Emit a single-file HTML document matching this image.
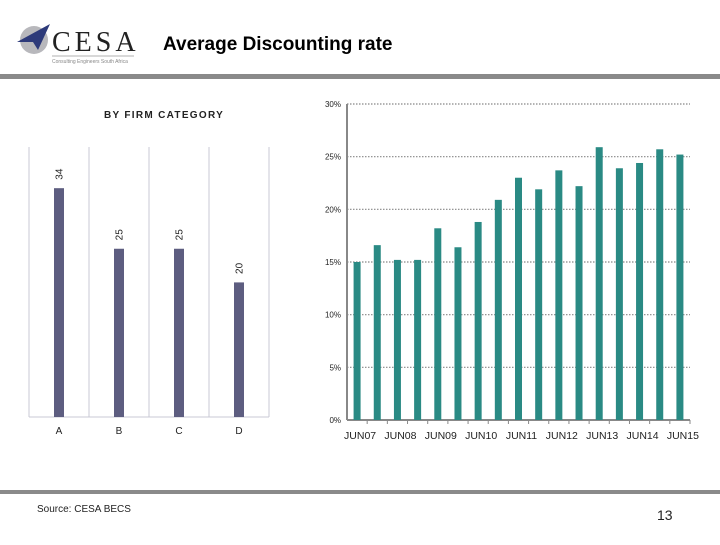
<!DOCTYPE html>
<html><head><meta charset="utf-8"><style>
body{margin:0;width:720px;height:540px;background:#fff;overflow:hidden;font-family:"Liberation Sans",sans-serif;}
</style></head><body>
<svg width="720" height="540" viewBox="0 0 720 540" xmlns="http://www.w3.org/2000/svg">
<g>
<circle cx="34" cy="40" r="14" fill="#b8b8bc"/>
<polygon points="17,42 50,24 38,50 33,42" fill="#2d3a7a"/>
<text x="52" y="51" font-family="Liberation Serif,serif" font-size="28" fill="#222" letter-spacing="4">CESA</text>
<line x1="52" y1="56" x2="134" y2="56" stroke="#999" stroke-width="0.7"/>
<text x="52" y="63" font-size="5" fill="#888">Consulting Engineers South Africa</text>
</g>
<text x="163" y="50" font-size="19" font-weight="bold" fill="#000">Average Discounting rate</text>
<rect x="0" y="74" width="720" height="5" fill="#8a8a8a"/>
<text x="104" y="118" font-size="10" font-weight="bold" letter-spacing="1.3" fill="#222">BY FIRM CATEGORY</text>
<g id="left"></g>
<g id="right"></g>
<rect x="0" y="490" width="720" height="4" fill="#8a8a8a"/>
<text x="37" y="512" font-size="10" fill="#222">Source: CESA BECS</text>
<text x="657" y="520" font-size="14" fill="#222">13</text>
</svg>
<script>
const catLabels=["A","B","C","D"];
const catValues=[34,25,25,20];
const periods=["JUN07","","JUN08","","JUN09","","JUN10","","JUN11","","JUN12","","JUN13","","JUN14","","JUN15"];
const rates=[15.0,16.6,15.2,15.2,18.2,16.4,18.8,20.9,23.0,21.9,23.7,22.2,25.9,23.9,24.4,25.7,25.2];
const yTicks=[0,5,10,15,20,25,30];
const NS="http://www.w3.org/2000/svg";
function mk(p,t,a){const e=document.createElementNS(NS,t);for(const k in a)e.setAttribute(k,a[k]);p.appendChild(e);return e;}
// left chart
const L=document.getElementById('left');
const lBase=417,lLeft=29,lStep=60,lScale=6.73;
const ly=v=>lBase-v*lScale;
const lx=i=>lLeft+lStep*i+lStep/2;
for(let i=0;i<=catLabels.length;i++){const g=mk(L,'line',{x1:lLeft+lStep*i,x2:lLeft+lStep*i,y1:147,y2:lBase,stroke:'#c8c8d4','stroke-width':1});
}
const lb=mk(L,'line',{x1:lLeft,x2:lLeft+lStep*4,y1:lBase,y2:lBase,stroke:'#c8c8d4','stroke-width':1});

catValues.forEach((v,i)=>{
const r=mk(L,'rect',{x:lx(i)-5,y:ly(v),width:10,height:lBase-ly(v),fill:'#5d5d80'});

const cx=lx(i)+1,cy=ly(v)-14;
const t=mk(L,'text',{x:cx,y:cy,'font-size':10,fill:'#222','text-anchor':'middle','dominant-baseline':'middle',transform:`rotate(-90 ${cx} ${cy})`});
t.textContent=v;
const c=mk(L,'text',{x:lx(i),y:434,'font-size':10,fill:'#222','text-anchor':'middle'});
c.textContent=catLabels[i];
});
// right chart
const R=document.getElementById('right');
const rBase=420,rTop=104,rMax=30,rX0=347,rX1=690;
const ry=v=>rBase-(v/rMax)*(rBase-rTop);
const rStep=(rX1-rX0)/rates.length;
const rx=i=>rX0+rStep*(i+0.5);
yTicks.forEach(t=>{
if(t>0){const g=mk(R,'line',{x1:rX0,x2:rX1,y1:ry(t),y2:ry(t),stroke:'#888','stroke-width':1.2,'stroke-dasharray':'1.5,1.5'});
}
const tx=mk(R,'text',{x:rX0-6,y:ry(t)+3,'font-size':8,fill:'#222','text-anchor':'end'});
tx.textContent=t+'%';
});
const ya=mk(R,'line',{x1:rX0,x2:rX0,y1:rTop,y2:rBase,stroke:'#888','stroke-width':2});

const xa=mk(R,'line',{x1:rX0,x2:rX1,y1:rBase,y2:rBase,stroke:'#888','stroke-width':2});

rates.forEach((v,i)=>{
const r=mk(R,'rect',{x:rx(i)-3.5,y:ry(v),width:7,height:rBase-ry(v),fill:'#2a8a84'});

const tk=mk(R,'line',{x1:rX0+rStep*(i+1),x2:rX0+rStep*(i+1),y1:rBase,y2:rBase+4,stroke:'#888','stroke-width':1});

if(periods[i]){const t=mk(R,'text',{x:rx(i)+3,y:439,'font-size':10.5,fill:'#222','text-anchor':'middle'});
t.textContent=periods[i];}
});
</script>
</body></html>
